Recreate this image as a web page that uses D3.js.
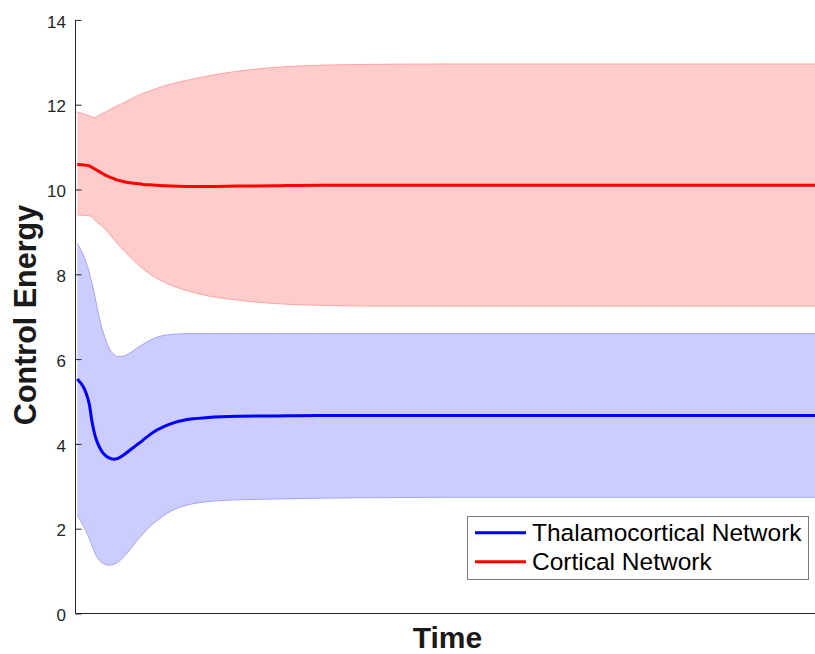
<!DOCTYPE html>
<html>
<head>
<meta charset="utf-8">
<script src="https://cdn.jsdelivr.net/npm/d3@7"></script>
<style>
  html, body { margin: 0; padding: 0; background: #fff; }
  svg { display: block; font-family: "Liberation Sans", Arial, Helvetica, sans-serif; }
</style>
</head>
<body>
<svg id="chart" width="815" height="654"></svg>
<script>
// Sample times (arbitrary units along the time axis)
const time = [0.3, 1.9, 2.3, 2.7, 3.1, 3.6, 4.1, 4.6, 5.2, 5.8, 6.5, 7.4, 8.3, 9.2, 10, 11, 12, 13,
              15, 18, 22, 27, 33, 40, 50, 60, 70, 80, 90, 100];

// Cortical network: mean control energy and shaded band
const corticalMean  = [10.59, 10.56, 10.52, 10.48, 10.44, 10.39, 10.34, 10.30, 10.26, 10.22, 10.19, 10.16, 10.14, 10.12, 10.11, 10.10, 10.09, 10.08,
                       10.07, 10.07, 10.08, 10.09, 10.10, 10.10, 10.10, 10.10, 10.10, 10.10, 10.10, 10.10];
const corticalUpper = [11.83, 11.74, 11.71, 11.70, 11.74, 11.78, 11.83, 11.88, 11.93, 11.98, 12.04, 12.12, 12.20, 12.27, 12.32, 12.38, 12.44, 12.49,
                       12.57, 12.68, 12.79, 12.88, 12.93, 12.95, 12.96, 12.96, 12.96, 12.96, 12.96, 12.96];
const corticalLower = [9.40, 9.38, 9.35, 9.28, 9.21, 9.15, 9.06, 8.96, 8.84, 8.71, 8.58, 8.42, 8.26, 8.13, 8.02, 7.91, 7.82, 7.74,
                       7.62, 7.49, 7.39, 7.31, 7.27, 7.25, 7.25, 7.25, 7.25, 7.25, 7.25, 7.25];

// Thalamocortical network: mean control energy and shaded band
const thalMean  = [5.53, 4.96, 4.52, 4.20, 4.00, 3.83, 3.73, 3.67, 3.64, 3.66, 3.73, 3.85, 3.97, 4.09, 4.20, 4.32, 4.41, 4.48,
                   4.57, 4.62, 4.65, 4.66, 4.67, 4.67, 4.67, 4.67, 4.67, 4.67, 4.67, 4.67];
const thalUpper = [8.73, 8.06, 7.78, 7.47, 7.12, 6.76, 6.48, 6.26, 6.12, 6.06, 6.07, 6.14, 6.25, 6.35, 6.43, 6.51, 6.56, 6.58,
                   6.60, 6.60, 6.60, 6.60, 6.60, 6.60, 6.60, 6.60, 6.60, 6.60, 6.60, 6.60];
const thalLower = [2.32, 1.78, 1.60, 1.42, 1.30, 1.20, 1.16, 1.14, 1.16, 1.21, 1.32, 1.50, 1.70, 1.88, 2.03, 2.18, 2.31, 2.42,
                   2.55, 2.64, 2.68, 2.70, 2.72, 2.73, 2.74, 2.74, 2.74, 2.74, 2.74, 2.74];

const yTicks = [0, 2, 4, 6, 8, 10, 12, 14];
const seriesNames = ["Thalamocortical Network", "Cortical Network"];

const svg = d3.select("#chart");
const plotLeft = 75, plotRight = 815, plotTop = 19.9, plotBottom = 613.5;

const x = d3.scaleLinear().domain([0, 100]).range([plotLeft, plotRight]);
const y = d3.scaleLinear().domain([0, 14]).range([plotBottom, plotTop]);

const series = [
  { mean: corticalMean, upper: corticalUpper, lower: corticalLower,
    line: "#ff0000", fill: "#ffcccc", edge: "#ffa3a3" },
  { mean: thalMean, upper: thalUpper, lower: thalLower,
    line: "#0000ff", fill: "#ccccff", edge: "#a3a3ff" }
];

const curve = d3.curveMonotoneX;
const band = d3.area().x(d => x(d.t)).y0(d => y(d.lo)).y1(d => y(d.hi)).curve(curve);
const path = d3.line().x(d => x(d.t)).y(d => y(d.v)).curve(curve);

const g = svg.append("g");

// Shaded bands with thin edge lines
series.forEach(s => {
  const pts = time.map((t, i) => ({ t, lo: s.lower[i], hi: s.upper[i] }));
  g.append("path").attr("d", band(pts)).attr("fill", s.fill).attr("stroke", "none");
  [s.upper, s.lower].forEach(arr => {
    g.append("path")
      .attr("d", path(time.map((t, i) => ({ t, v: arr[i] }))))
      .attr("fill", "none").attr("stroke", s.edge).attr("stroke-width", 1);
  });
});

// Mean lines
series.forEach(s => {
  g.append("path")
    .attr("d", path(time.map((t, i) => ({ t, v: s.mean[i] }))))
    .attr("fill", "none").attr("stroke", s.line).attr("stroke-width", 3)
    .attr("stroke-linejoin", "round");
});

// Axes
const yAxis = d3.axisLeft(y).tickValues(yTicks).tickSize(-6).tickPadding(9).tickFormat(d3.format("d"));
const ya = svg.append("g").attr("transform", `translate(${plotLeft},0)`).call(yAxis);
ya.select(".domain").attr("stroke", "#262626").attr("stroke-width", 1).attr("d", `M0.5,${plotTop}V${plotBottom}`);
ya.selectAll(".tick line").attr("stroke", "#262626").attr("transform", "translate(0.5,0)");
ya.selectAll(".tick text").attr("fill", "#262626").attr("font-size", 17).attr("dy", "0.42em")
  .attr("font-family", "'Liberation Sans', Arial, sans-serif");

svg.append("line")
  .attr("x1", plotLeft).attr("x2", plotRight).attr("y1", plotBottom).attr("y2", plotBottom)
  .attr("stroke", "#262626").attr("stroke-width", 1);

// Axis titles
svg.append("text")
  .attr("x", 447.5).attr("y", 647.5)
  .attr("text-anchor", "middle").attr("font-weight", "bold").attr("font-size", 30)
  .attr("fill", "#1a1a1a").text("Time");

svg.append("text")
  .attr("transform", "translate(35.5,315) rotate(-90)")
  .attr("text-anchor", "middle").attr("font-weight", "bold").attr("font-size", 30.5)
  .attr("fill", "#1a1a1a").text("Control Energy");

// Legend
const lg = svg.append("g");
lg.append("rect").attr("x", 467.5).attr("y", 516.5).attr("width", 341).attr("height", 63)
  .attr("fill", "#fff").attr("stroke", "#7a7a7a").attr("stroke-width", 1);
[{ name: seriesNames[0], color: "#0000ff" }, { name: seriesNames[1], color: "#ff0000" }].forEach((d, i) => {
  const cy = 532.7 + i * 29;
  lg.append("line").attr("x1", 475).attr("x2", 526).attr("y1", cy).attr("y2", cy)
    .attr("stroke", d.color).attr("stroke-width", 3);
  lg.append("text").attr("x", 532).attr("y", cy + 8.5).attr("font-size", 24.5)
    .attr("fill", "#000").text(d.name);
});
</script>
</body>
</html>
